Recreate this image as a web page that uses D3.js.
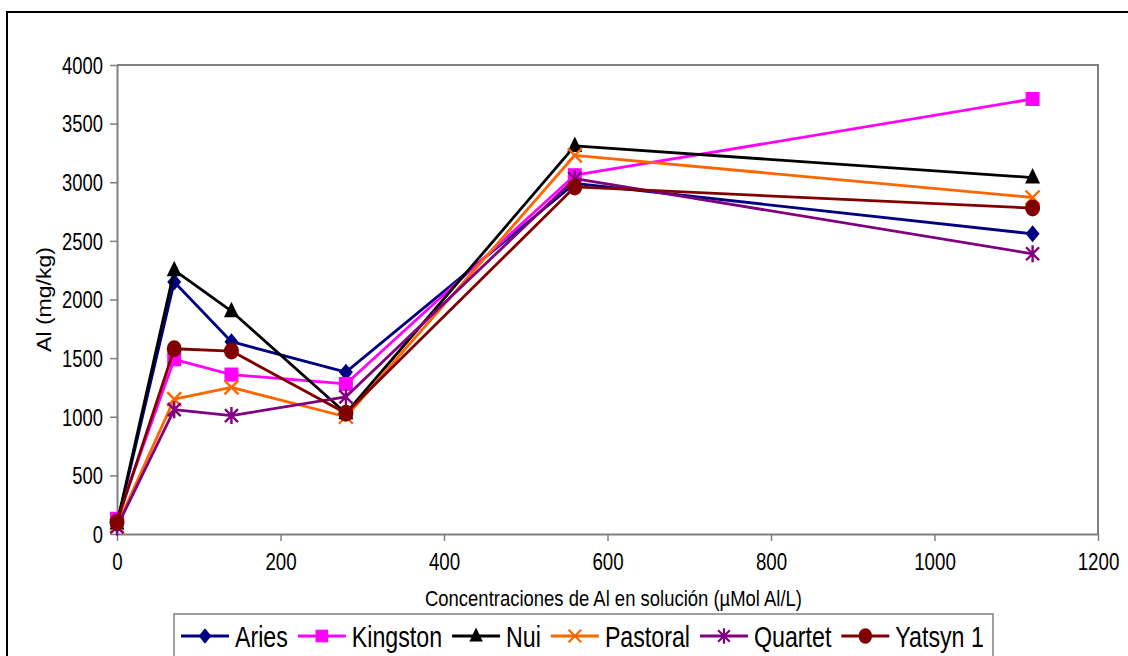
<!DOCTYPE html>
<html>
<head>
<meta charset="utf-8">
<script src="https://cdn.jsdelivr.net/npm/d3@7"></script>
<style>
  body { margin: 0; background: #fff; }
  svg { display: block; font-family: "Liberation Sans", Arial, sans-serif; }
</style>
</head>
<body>
<svg width="1128" height="656"></svg>
<script>
// data
var concentrations = [0, 70, 140, 280, 560, 1120];
var aries = [80, 2150, 1640, 1380, 2990, 2560];
var kingston = [130, 1490, 1360, 1280, 3060, 3710];
var nui = [90, 2250, 1900, 1030, 3310, 3040];
var pastoral = [70, 1150, 1250, 1000, 3230, 2870];
var quartet = [60, 1060, 1010, 1170, 3030, 2390];
var yatsyn = [100, 1580, 1560, 1030, 2960, 2780];

var seriesNames = ["Aries", "Kingston", "Nui", "Pastoral", "Quartet", "Yatsyn 1"];
var seriesValues = [aries, kingston, nui, pastoral, quartet, yatsyn];
var seriesColors = ["#000080", "#ff00ff", "#000000", "#ff6600", "#800080", "#800000"];
var seriesMarkers = ["diamond", "square", "triangle", "cross", "asterisk", "circle"];

var xTicks = [0, 200, 400, 600, 800, 1000, 1200];
var yTicks = [0, 500, 1000, 1500, 2000, 2500, 3000, 3500, 4000];

// presets
var svg = d3.select("svg");
var plot = { left: 117, right: 1098, top: 65, bottom: 534 };

var x = d3.scaleLinear().domain([0, 1200]).range([plot.left, plot.right]);
var y = d3.scaleLinear().domain([0, 4000]).range([plot.bottom, plot.top]);

svg.append("rect").attr("width", 1128).attr("height", 656).attr("fill", "#fff");

// outer chart frame (runs off the right and bottom)
svg.append("path")
  .attr("d", "M1140,12H7V670")
  .attr("fill", "none")
  .attr("stroke", "#000")
  .attr("stroke-width", 2);

// plot area frame
svg.append("path")
  .attr("d", "M" + plot.left + "," + plot.top + "H" + plot.right + "V" + plot.bottom)
  .attr("fill", "none")
  .attr("stroke", "#808080")
  .attr("stroke-width", 2);

// axes
var xAxis = svg.append("g")
  .attr("transform", "translate(0," + plot.bottom + ")")
  .call(d3.axisBottom(x).tickValues(xTicks).tickFormat(d3.format("d"))
    .tickSize(7).tickSizeOuter(0).tickPadding(12));

var yAxis = svg.append("g")
  .attr("transform", "translate(" + plot.left + ",0)")
  .call(d3.axisLeft(y).tickValues(yTicks).tickFormat(d3.format("d"))
    .tickSize(7).tickSizeOuter(0).tickPadding(7));

[xAxis, yAxis].forEach(function(ax) {
  ax.select(".domain").attr("stroke", "#808080").attr("stroke-width", 2);
  ax.selectAll(".tick line").attr("stroke", "#808080").attr("stroke-width", 1.5);
  ax.selectAll(".tick text")
    .attr("fill", "#000")
    .style("font-family", "'Liberation Sans', Arial, sans-serif");
});

xAxis.selectAll(".tick text")
  .style("font-size", "24px")
  .attr("transform", "scale(0.78,1)");

yAxis.selectAll(".tick text")
  .style("font-size", "23px")
  .attr("dy", "0.36em")
  .attr("transform", function() {
    var tx = +d3.select(this).attr("x");
    return "translate(" + tx + ",0) scale(0.8,1) translate(" + -tx + ",0)";
  });

// axis titles
svg.append("text")
  .attr("transform", "translate(" + ((plot.left + plot.right) / 2 + 6) + ",606) scale(0.84,1)")
  .attr("text-anchor", "middle")
  .style("font-size", "22px")
  .text("Concentraciones de Al en solución (µMol Al/L)");

svg.append("text")
  .attr("transform", "translate(51," + (plot.top + plot.bottom) / 2 + ") rotate(-90) scale(1.18,1)")
  .attr("text-anchor", "middle")
  .style("font-size", "19.5px")
  .text("Al (mg/kg)");

// markers
function marker(g, type, color, k) {
  k = k || 1;
  if (type === "diamond") {
    g.append("path").attr("d", "M0,-8.5L7,0L0,8.5L-7,0Z").attr("fill", color)
      .attr("transform", "scale(" + k + ")");
  } else if (type === "square") {
    g.append("rect").attr("x", -7 * k).attr("y", -7 * k)
      .attr("width", 14 * k).attr("height", 14 * k).attr("fill", color);
  } else if (type === "triangle") {
    g.append("path").attr("d", "M0,-9.5L7.5,6L-7.5,6Z").attr("fill", color)
      .attr("transform", "scale(" + k + ")");
  } else if (type === "cross") {
    g.append("path").attr("d", "M-7,-7L7,7M-7,7L7,-7")
      .attr("stroke", color).attr("stroke-width", 2.4).attr("fill", "none")
      .attr("transform", "scale(" + k + ")");
  } else if (type === "asterisk") {
    g.append("path").attr("d", "M-6.5,-6.5L6.5,6.5M-6.5,6.5L6.5,-6.5M0,-8.5V8.5")
      .attr("stroke", color).attr("stroke-width", 2.4).attr("fill", "none")
      .attr("transform", "scale(" + k + ")");
  } else if (type === "circle") {
    g.append("ellipse").attr("rx", 7.5 * k).attr("ry", 8.5 * k).attr("fill", color);
  }
}

// series
var line = d3.line()
  .x(function(d) { return x(d.x); })
  .y(function(d) { return y(d.y); });

seriesValues.forEach(function(vals, i) {
  var pts = vals.map(function(v, j) { return { x: concentrations[j], y: v }; });
  var g = svg.append("g");
  g.append("path")
    .datum(pts)
    .attr("d", line)
    .attr("fill", "none")
    .attr("stroke", seriesColors[i])
    .attr("stroke-width", 2.8)
    .attr("stroke-linejoin", "round");
  pts.forEach(function(p) {
    var m = g.append("g").attr("transform", "translate(" + x(p.x) + "," + y(p.y) + ")");
    marker(m, seriesMarkers[i], seriesColors[i]);
  });
});

// legend
var legend = svg.append("g");
legend.append("rect")
  .attr("x", 174).attr("y", 614)
  .attr("width", 819).attr("height", 60)
  .attr("fill", "#fff")
  .attr("stroke", "#808080")
  .attr("stroke-width", 1.5);

var squeeze = 0.8;
var lx = 181, ly = 636;
seriesNames.forEach(function(name, i) {
  var g = legend.append("g");
  g.append("line")
    .attr("x1", lx).attr("x2", lx + 48)
    .attr("y1", ly).attr("y2", ly)
    .attr("stroke", seriesColors[i])
    .attr("stroke-width", 2.8);
  var m = g.append("g").attr("transform", "translate(" + (lx + 24) + "," + ly + ")");
  marker(m, seriesMarkers[i], seriesColors[i], 0.9);
  var t = g.append("text")
    .attr("transform", "translate(" + (lx + 54) + "," + (ly + 11) + ") scale(" + squeeze + ",1)")
    .style("font-size", "29px")
    .text(name);
  lx += 54 + t.node().getComputedTextLength() * squeeze + 10;
});
</script>
</body>
</html>
